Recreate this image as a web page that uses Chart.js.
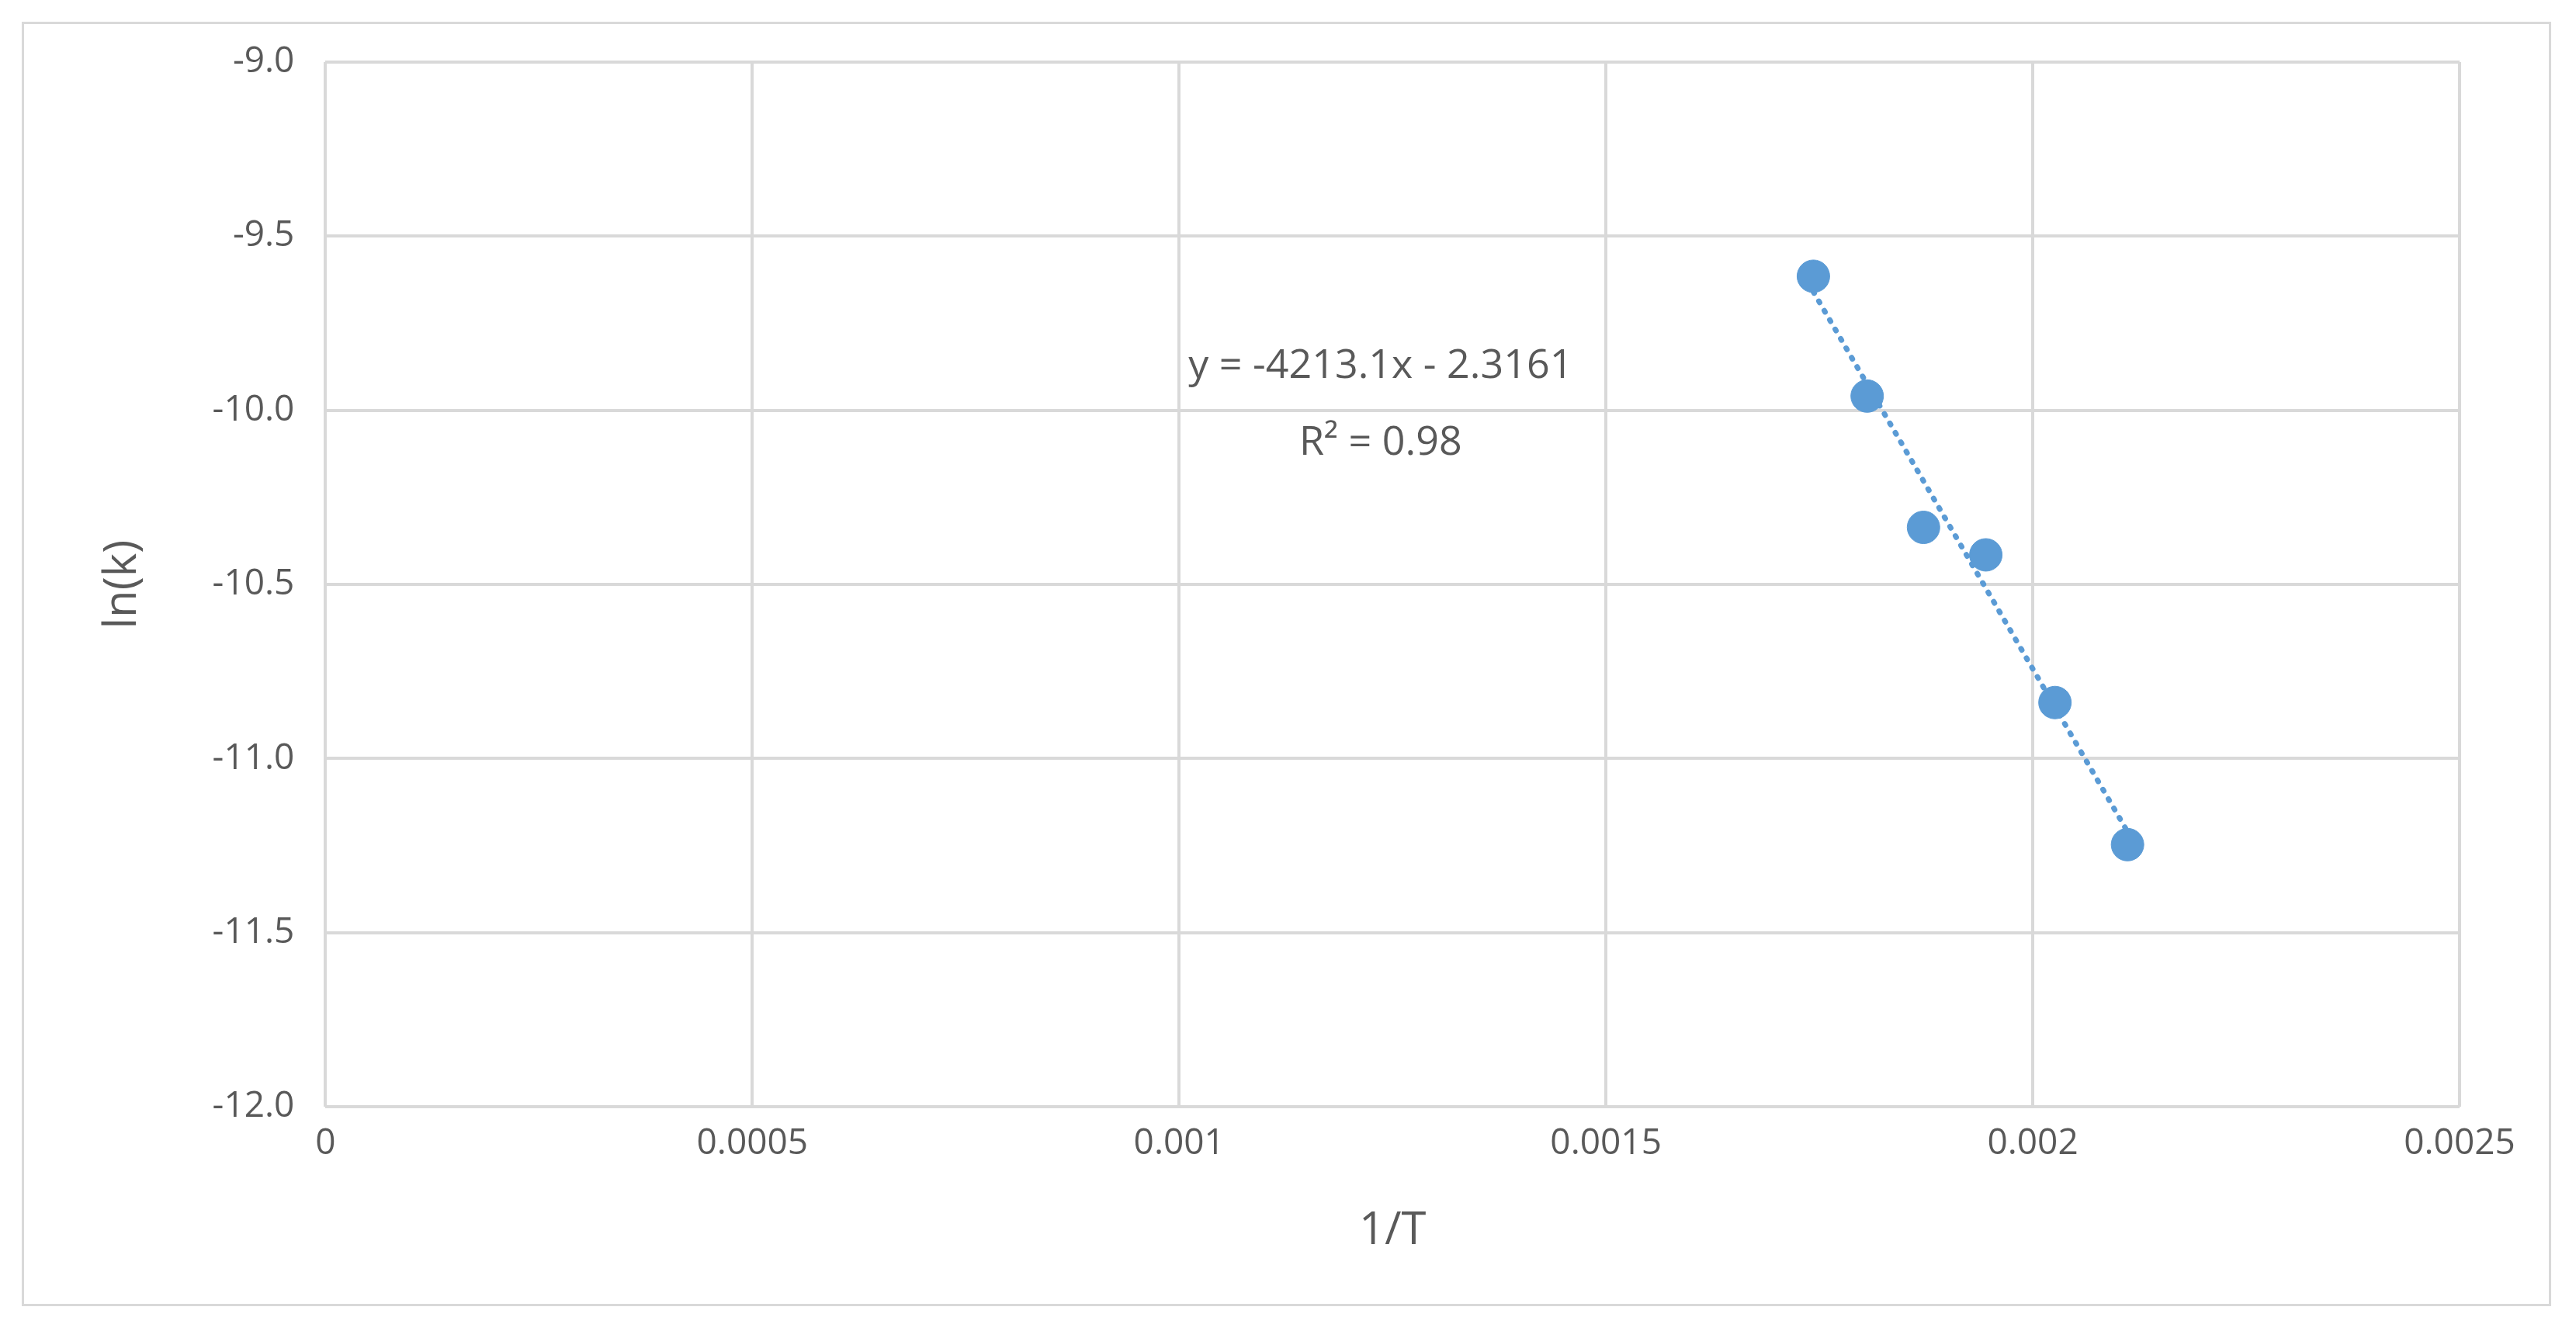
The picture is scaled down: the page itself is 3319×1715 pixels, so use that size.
<!DOCTYPE html>
<html><head><meta charset="utf-8">
<script src="https://cdn.jsdelivr.net/npm/chart.js@4.4.0/dist/chart.umd.min.js"></script>
<style>
html,body{margin:0;padding:0;background:#fff;}
#frame{position:absolute;left:28px;top:28px;width:3259px;height:1655px;border:3px solid #d9d9d9;box-sizing:border-box;}
#wrap{position:absolute;left:0;top:0;width:3319px;height:1715px;}
</style></head><body>
<div id="frame"></div>
<div id="wrap"><canvas id="c" width="3319" height="1715"></canvas></div>
<script>
const invT = [0.001743, 0.001806, 0.001872, 0.001945, 0.002026, 0.002111];
const lnK = [-9.615, -9.959, -10.336, -10.415, -10.839, -11.247];
const slope = -4213.1, intercept = -2.3161;
const eqLabel = ["y = -4213.1x - 2.3161", "R² = 0.98"];
const xMin = 0, xMax = 0.0025, xStep = 0.0005;
const yMin = -12, yMax = -9, yStep = 0.5;

const trend = [invT[0], invT[invT.length-1]].map(x => ({x, y: slope*x + intercept}));
const grey = '#595959';
const annot = {
  id:'annot',
  afterDatasetsDraw(chart){
    const {ctx, scales:{x,y}} = chart;
    ctx.save();
    ctx.fillStyle = grey; ctx.font = '52px "Open Sans", Calibri, sans-serif';
    ctx.textAlign='center'; ctx.textBaseline='middle';
    ctx.fillText(eqLabel[0], x.getPixelForValue(0.001236), y.getPixelForValue(-9.875));
    ctx.fillText(eqLabel[1], x.getPixelForValue(0.001236), y.getPixelForValue(-10.095));
    ctx.restore();
  }
};
new Chart(document.getElementById('c'), {
  type:'scatter',
  data:{datasets:[
    {data: invT.map((x,i)=>({x, y:lnK[i]})), backgroundColor:'#5B9BD5', borderColor:'#5B9BD5', pointRadius:21, pointHoverRadius:21, order:1},
    {type:'line', data: trend, borderColor:'#5B9BD5', borderWidth:7, borderDash:[2,12], borderCapStyle:'round', pointRadius:0, fill:false, order:2}
  ]},
  options:{
    responsive:false, animation:false, devicePixelRatio:1,
    layout:{padding:{left:120, right:150, top:80, bottom:90}},
    plugins:{legend:{display:false}, tooltip:{enabled:false}},
    scales:{
      x:{type:'linear', min:xMin, max:xMax, ticks:{stepSize:xStep, color:grey, font:{size:46, family:'"Open Sans", sans-serif'}, padding:20, callback:v=>String(+v.toFixed(4))},
        grid:{color:'#d9d9d9', lineWidth:4, drawTicks:false}, border:{display:false},
        title:{display:true, text:'1/T', color:grey, font:{size:58, family:'"Open Sans", sans-serif'}, padding:{top:30}}},
      y:{min:yMin, max:yMax, ticks:{stepSize:yStep, color:grey, font:{size:46, family:'"Open Sans", sans-serif'}, padding:40},
        grid:{color:'#d9d9d9', lineWidth:4, drawTicks:false}, border:{display:false},
        title:{display:true, text:'ln(k)', color:grey, font:{size:58, family:'"Open Sans", sans-serif'}, padding:{bottom:40}}}
    }
  },
  plugins:[annot]
});
</script>
</body></html>
